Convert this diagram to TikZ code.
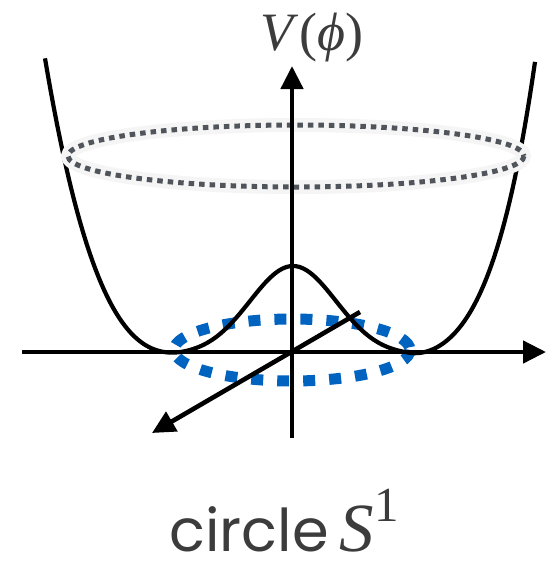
\documentclass[tikz,border=0pt]{standalone}
\usepackage{fontspec}
\usepackage{xcolor}
\usepackage{tikz}
\usetikzlibrary{positioning, arrows.meta}
\newfontfamily\serifface{Liberation Serif}
\newfontfamily\captionface{Poppins}
\definecolor{dotblue}{HTML}{0063C0}
\definecolor{dotgray}{HTML}{50555C}
\definecolor{textgray}{HTML}{3C3C3C}

\begin{document}
\begin{tikzpicture}[
        x=1pt, y=-1pt,
        declare function={
            bump(\t)=89*exp(-((\t-293)/100)^2/0.3698);
            leftwall(\t)=101*((190-\t)/100)^2.9;
            rightwall(\t)=97.6*((\t-410)/100)^2+57.6*((\t-410)/100)^4;
        },
        axis/.style={line width=4.6pt, -{Triangle[length=23pt, width=22pt]}},
        curve/.style={line width=4.2pt, black, line join=round},
        vacuum/.style={dotblue, line width=11pt, dash pattern=on 12pt off 14pt},
        level/.style={dotgray, line width=5pt, dash pattern=on 5.5pt off 5pt},
        glow/.style={black!4, line width=14pt},
        label/.style={inner sep=0pt, text=textgray}
        ]
        \useasboundingbox (0,0) rectangle (547,566);

        % axes end points
        \coordinate (origin) at (292,352);
        \coordinate (xstart) at (22,352);
        \coordinate (xend) at (546,352);
        \coordinate (ystart) at (292,438);
        \coordinate (yend) at (292,66);
        \coordinate (zstart) at (360,312);
        \coordinate (zend) at (152,433);

        % circle of minima
        \draw[vacuum] (origin) ++(0,-2) ellipse [x radius=118, y radius=31];

        % potential: walls plus central bump
        \draw[curve] plot[domain=45:189.99, samples=50] (\x, {355-bump(\x)-leftwall(\x)})
            -- plot[domain=190:410, samples=80] (\x, {355-bump(\x)})
            -- plot[domain=410:535, samples=50] (\x, {355-bump(\x)-rightwall(\x)});

        % level set
        \draw[glow] (296,156) ellipse [x radius=228, y radius=31];
        \draw[level] (296,156) ellipse [x radius=228, y radius=31];

        \draw[axis] (xstart) -- (xend);
        \draw[axis] (ystart) -- (yend);
        \draw[axis] (zstart) -- (zend);

        \node[label, anchor=base] (vlabel) at (312,50)
            {\fontsize{54pt}{60pt}\serifface\textit{V}(\textit{ϕ})};
        \node[label, anchor=base] (caption) at (284,551)
            {\fontsize{59pt}{66pt}\captionface circle\hspace{11pt}%
             {\fontsize{69pt}{70pt}\serifface\textit{S}}%
             \raisebox{30pt}{\fontsize{49pt}{50pt}\serifface 1}};
\end{tikzpicture}
\end{document}
